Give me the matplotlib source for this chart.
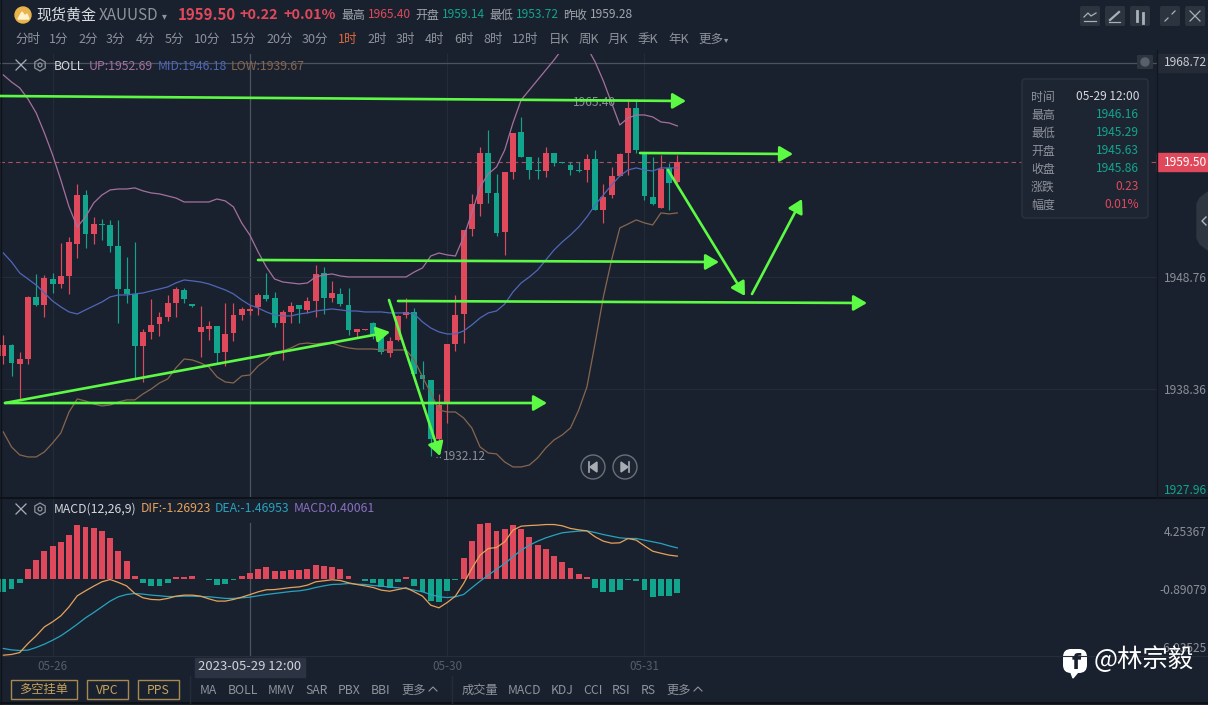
import numpy as np
import matplotlib
matplotlib.use("Agg")
import matplotlib.pyplot as plt
from matplotlib.patches import Circle, FancyBboxPatch, Rectangle, RegularPolygon, Polygon

plt.rcParams['font.family'] = ['Noto Sans CJK SC', 'DejaVu Sans']

W, H = 1208, 705
BG = '#1a212e'
RED = '#e0495b'
GREEN = '#12a58d'
ARROW = '#5dfa45'
GREY = '#8b9098'

# hourly candles
opens = [1941.44, 1942.47, 1940.70, 1941.16, 1946.91, 1946.19, 1948.61, 1948.15, 1948.89, 1951.87,
         1956.43, 1952.80, 1953.76, 1953.64, 1951.72, 1947.68, 1947.18, 1942.37, 1943.68, 1944.42,
         1945.04, 1946.38, 1947.59, 1946.25, 1943.65, 1943.96, 1944.24, 1941.82, 1943.58, 1945.26,
         1945.63, 1945.97, 1947.12, 1946.81, 1944.52, 1945.54, 1946.16, 1945.73, 1946.59, 1949.14,
         1946.81, 1947.18, 1946.19, 1943.70, 1943.89, 1944.48, 1943.55, 1941.69, 1942.93, 1945.23,
         1945.54, 1939.64, 1939.21, 1933.68, 1937.19, 1942.53, 1945.32, 1953.23, 1955.59, 1960.31,
         1956.65, 1953.02, 1958.60, 1962.30, 1959.94, 1958.76, 1958.70, 1960.31, 1959.45, 1959.22,
         1958.76, 1958.76, 1959.75, 1955.03, 1956.40, 1958.20, 1960.31, 1964.50, 1960.46, 1956.21,
         1955.19, 1958.91, 1957.67]
highs = [1943.40, 1942.60, 1941.85, 1947.03, 1949.05, 1948.98, 1949.14, 1952.00, 1952.55, 1957.46,
         1956.90, 1954.35, 1954.17, 1954.11, 1954.11, 1950.63, 1952.09, 1943.93, 1946.72, 1945.54,
         1947.12, 1947.84, 1947.77, 1946.28, 1946.10, 1944.73, 1944.27, 1946.41, 1946.35, 1946.04,
         1946.16, 1947.28, 1949.14, 1947.40, 1945.73, 1946.47, 1946.16, 1946.91, 1949.88, 1949.76,
         1948.46, 1947.81, 1947.74, 1943.92, 1943.98, 1944.64, 1943.70, 1943.18, 1945.26, 1946.81,
         1945.88, 1941.01, 1939.21, 1937.91, 1942.53, 1947.12, 1953.17, 1956.52, 1960.87, 1962.48,
         1958.39, 1958.60, 1962.23, 1963.66, 1960.00, 1960.00, 1960.93, 1960.31, 1959.47, 1959.53,
         1959.53, 1960.25, 1960.62, 1957.45, 1959.07, 1960.31, 1965.40, 1965.38, 1960.46, 1959.94,
         1960.15, 1959.38, 1960.15]
lows = [1940.70, 1939.58, 1937.35, 1940.70, 1946.10, 1945.04, 1947.28, 1947.74, 1947.18, 1950.54,
        1951.53, 1951.87, 1952.24, 1951.16, 1944.48, 1946.41, 1939.36, 1939.05, 1942.99, 1943.30,
        1944.73, 1945.11, 1946.41, 1946.04, 1941.32, 1942.93, 1940.76, 1940.51, 1942.87, 1944.79,
        1945.29, 1945.26, 1946.59, 1944.11, 1941.07, 1944.55, 1944.55, 1945.48, 1945.11, 1945.35,
        1946.50, 1946.10, 1943.40, 1943.18, 1943.88, 1942.99, 1941.63, 1941.32, 1942.87, 1944.95,
        1939.77, 1938.34, 1932.12, 1932.54, 1935.17, 1941.94, 1942.62, 1952.61, 1954.51, 1955.66,
        1952.61, 1950.84, 1957.89, 1959.94, 1957.89, 1957.89, 1958.08, 1959.13, 1959.37, 1958.26,
        1958.60, 1957.67, 1955.03, 1953.85, 1956.12, 1958.20, 1958.29, 1960.31, 1955.96, 1955.50,
        1955.19, 1955.03, 1957.52]
closes = [1942.47, 1940.82, 1941.16, 1946.97, 1946.19, 1948.67, 1948.15, 1948.89, 1952.06, 1956.43,
          1952.80, 1953.73, 1953.67, 1951.72, 1947.71, 1947.18, 1942.37, 1943.65, 1944.36, 1945.11,
          1946.38, 1947.68, 1946.72, 1946.10, 1944.11, 1944.27, 1941.75, 1943.52, 1945.26, 1945.82,
          1945.86, 1947.12, 1946.78, 1944.55, 1945.51, 1946.10, 1945.82, 1946.56, 1949.05, 1946.87,
          1947.28, 1946.28, 1943.86, 1943.92, 1943.95, 1943.40, 1941.84, 1942.87, 1945.20, 1945.54,
          1939.77, 1939.27, 1933.68, 1936.88, 1942.53, 1945.26, 1953.17, 1955.59, 1960.31, 1956.65,
          1952.86, 1958.54, 1962.17, 1960.00, 1958.76, 1958.67, 1960.31, 1959.44, 1959.39, 1958.76,
          1958.67, 1959.75, 1955.03, 1956.27, 1958.20, 1960.22, 1964.50, 1960.62, 1956.34, 1955.59,
          1958.82, 1957.52, 1959.50]

boll_up = [1967.61, 1966.95, 1966.40, 1965.37, 1964.07, 1962.21, 1960.16, 1957.83, 1955.32, 1953.45,
           1954.39, 1955.69, 1956.43, 1956.90, 1956.99, 1956.99, 1957.09, 1956.81, 1956.62, 1956.53,
           1956.34, 1956.15, 1955.78, 1955.78, 1955.78, 1955.78, 1956.06, 1955.88, 1955.32, 1953.83,
           1952.69, 1951.13, 1949.73, 1948.61, 1948.33, 1948.24, 1948.15, 1948.24, 1948.80, 1948.98,
           1949.08, 1948.89, 1948.80, 1948.80, 1948.80, 1948.80, 1948.80, 1948.80, 1948.80, 1948.80,
           1949.26, 1949.64, 1950.75, 1951.03, 1950.85, 1950.75, 1952.52, 1954.76, 1957.18, 1958.39,
           1959.04, 1960.62, 1963.14, 1965.28, 1966.21, 1967.14, 1968.07, 1969.00, 1970.03, 1970.49,
           1970.59, 1970.21, 1968.82, 1967.05, 1965.00, 1962.95, 1963.60, 1963.88, 1963.88, 1963.70,
           1963.23, 1963.14, 1962.86]
boll_mid = [1951.03, 1950.20, 1949.17, 1948.61, 1948.05, 1947.31, 1946.56, 1946.01, 1945.54, 1945.35,
            1945.73, 1946.10, 1946.47, 1946.94, 1947.12, 1947.12, 1947.22, 1947.31, 1947.50, 1947.68,
            1947.87, 1948.24, 1948.52, 1948.43, 1948.33, 1948.15, 1947.87, 1947.59, 1947.22, 1946.66,
            1946.18, 1945.91, 1945.54, 1945.26, 1945.17, 1945.17, 1945.35, 1945.45, 1945.63, 1945.73,
            1945.82, 1945.73, 1945.63, 1945.63, 1945.54, 1945.54, 1945.54, 1945.45, 1945.45, 1945.45,
            1945.35, 1944.61, 1944.05, 1943.68, 1943.49, 1943.49, 1943.77, 1944.33, 1944.98, 1945.45,
            1945.63, 1946.28, 1947.40, 1948.24, 1948.80, 1949.45, 1950.38, 1951.31, 1952.06, 1952.71,
            1953.45, 1954.39, 1955.50, 1956.43, 1957.36, 1958.20, 1958.76, 1958.95, 1958.76, 1958.67,
            1958.95, 1958.95, 1958.95]
boll_low = [1934.37, 1932.97, 1932.23, 1932.04, 1932.04, 1932.51, 1933.34, 1934.27, 1936.23, 1937.44,
            1937.25, 1936.97, 1936.79, 1936.88, 1937.16, 1937.35, 1937.35, 1937.91, 1938.37, 1938.93,
            1939.30, 1940.33, 1941.16, 1941.07, 1940.79, 1940.42, 1939.49, 1939.02, 1938.93, 1939.58,
            1939.67, 1940.51, 1941.07, 1941.82, 1941.91, 1942.19, 1942.56, 1942.65, 1942.56, 1942.65,
            1942.65, 1942.37, 1942.19, 1942.09, 1942.09, 1942.09, 1942.00, 1942.00, 1942.00, 1942.00,
            1941.07, 1939.49, 1938.00, 1936.41, 1936.23, 1936.23, 1935.67, 1934.74, 1932.97, 1932.41,
            1932.32, 1931.57, 1931.11, 1931.11, 1931.29, 1931.95, 1932.88, 1933.62, 1934.09, 1934.74,
            1936.41, 1938.56, 1942.65, 1946.94, 1950.38, 1953.36, 1953.73, 1954.11, 1953.83, 1953.64,
            1954.76, 1954.67, 1954.76]

macd_hist = [-1.05, -0.79, -0.39, 0.73, 1.42, 2.18, 2.57, 2.89, 3.41, 4.20,
             4.07, 3.96, 3.73, 3.15, 2.15, 1.36, 0.18, -0.39, -0.60, -0.60,
             -0.34, 0.08, 0.13, 0.16, -0.05, -0.13, -0.52, -0.45, -0.13, 0.18,
             0.40, 0.73, 0.87, 0.60, 0.60, 0.66, 0.66, 0.71, 1.05, 0.97,
             0.89, 0.71, 0.21, -0.03, -0.16, -0.39, -0.66, -0.71, -0.31, 0.10,
             -0.58, -1.05, -1.78, -1.84, -1.00, -0.08, 1.65, 2.97, 4.28, 4.38,
             3.75, 3.88, 4.20, 3.88, 3.28, 2.62, 2.31, 1.76, 1.26, 0.79,
             0.34, 0.10, -0.71, -1.08, -1.08, -0.87, -0.08, -0.21, -0.94, -1.44,
             -1.34, -1.39, -1.15]
macd_dif = [-6.04, -5.98, -5.83, -5.12, -4.51, -3.81, -3.41, -2.94, -2.23, -1.36,
            -0.97, -0.60, -0.26, -0.08, -0.31, -0.58, -1.18, -1.52, -1.65, -1.68,
            -1.57, -1.39, -1.31, -1.31, -1.39, -1.60, -1.78, -1.78, -1.65, -1.47,
            -1.27, -1.05, -0.89, -0.87, -0.79, -0.71, -0.66, -0.52, -0.26, -0.18,
            -0.10, -0.16, -0.34, -0.47, -0.58, -0.71, -0.92, -1.00, -0.87, -0.73,
            -1.05, -1.39, -2.10, -2.31, -1.89, -1.39, -0.39, 0.79, 1.84, 2.36,
            2.44, 2.89, 3.81, 4.12, 4.17, 4.20, 4.25, 4.25, 4.15, 3.94,
            3.83, 3.75, 3.28, 2.94, 2.78, 2.81, 3.15, 3.02, 2.57, 2.15,
            1.99, 1.84, 1.76]
macd_dea = [-5.51, -5.62, -5.67, -5.64, -5.43, -5.17, -4.86, -4.51, -4.07, -3.60,
            -3.10, -2.68, -2.23, -1.78, -1.44, -1.26, -1.18, -1.23, -1.31, -1.36,
            -1.42, -1.42, -1.39, -1.39, -1.42, -1.44, -1.50, -1.57, -1.57, -1.52,
            -1.47, -1.36, -1.26, -1.18, -1.10, -1.02, -0.97, -0.87, -0.71, -0.58,
            -0.47, -0.45, -0.39, -0.45, -0.47, -0.55, -0.60, -0.68, -0.73, -0.79,
            -0.92, -1.05, -1.26, -1.44, -1.50, -1.44, -1.26, -0.73, -0.21, 0.26,
            0.73, 1.18, 1.71, 2.23, 2.62, 2.94, 3.20, 3.41, 3.60, 3.67,
            3.73, 3.75, 3.62, 3.46, 3.33, 3.20, 3.15, 3.15, 3.02, 2.89,
            2.76, 2.57, 2.41]

date_ticks = [6, 54, 78]
date_labels = ['05-26', '05-30', '05-31']
cross_idx = 30

periods = ['分时', '1分', '2分', '3分', '4分', '5分', '10分', '15分', '20分', '30分', '1时', '2时', '3时',
           '4时', '6时', '8时', '12时', '日K', '周K', '月K', '季K', '年K', '更多']
period_x = [15, 49, 78, 106, 136, 165, 194, 230, 266, 302, 338, 367, 396, 425, 454, 483, 512, 549, 579,
            608, 638, 668, 698]
ind_left = ['MA', 'BOLL', 'MMV', 'SAR', 'PBX', 'BBI', '更多']
ind_left_x = [200, 228, 268, 305, 338, 371, 401]
ind_right = ['成交量', 'MACD', 'KDJ', 'CCI', 'RSI', 'RS', '更多']
ind_right_x = [462, 508, 551, 583, 612, 641, 666]

info_names = ['时间', '最高', '最低', '开盘', '收盘', '涨跌', '幅度']
info_values = ['05-29 12:00', '1946.16', '1945.29', '1945.63', '1945.86', '0.23', '0.01%']
info_colors = ['#d5d8dd', GREEN, GREEN, GREEN, GREEN, RED, RED]

# hand drawn arrows (from, to) in picture pixels
arrows = [((0, 96), (686, 101)), ((640, 153), (793, 154)), ((258, 260), (719, 262)),
          ((398, 301), (867, 303)), ((5, 403), (547, 403)), ((5, 403), (390, 332)),
          ((389, 300), (440, 456)), ((668, 170), (745, 296)), ((752, 294), (802, 199))]


def px_axes(x0, y0, x1, y1, **kw):
    return fig.add_axes([x0 / W, 1 - y1 / H, (x1 - x0) / W, (y1 - y0) / H], **kw)


def idx_lim(x0, x1):
    return (x0 - 3.3) / 8.22, (x1 - 3.3) / 8.22


fig = plt.figure(figsize=(W / 100, H / 100), dpi=100, facecolor=BG)
idx = np.arange(len(opens))
o, hi, lo, c = map(np.array, (opens, highs, lows, closes))
up = c >= o
colors = np.where(up, RED, GREEN)

# price panel
ax = px_axes(0, 54, 1157, 498, facecolor=BG)
ax.set_xlim(*idx_lim(0, 1157))
ax.set_ylim(1968.72 - 435 / 10.74, 1968.72 + 9 / 10.74)
ax.axis('off')
for t in date_ticks:
    ax.axvline(t, color='#252c39', lw=0.8, zorder=1)
ax.axvline(cross_idx, color='#4c525e', lw=0.9, zorder=1)
for p in [1948.76, 1938.36]:
    ax.axhline(p, color='#252c39', lw=0.8, zorder=1)
ax.axhline(1968.72, color='#4c525e', lw=0.9, zorder=1)
ax.axhline(closes[-1], color='#a8505f', lw=0.8, ls=(0, (4, 3)), zorder=1)
ax.vlines(idx, lo, hi, colors=colors, lw=0.85, zorder=3)
ax.bar(idx, np.maximum(np.abs(c - o), 0.1), bottom=np.minimum(o, c), width=0.72, color=colors, zorder=3)
ax.plot(idx, boll_up, color='#a4709f', lw=0.9, zorder=4)
ax.plot(idx, boll_mid, color='#4f67b8', lw=0.9, zorder=4)
ax.plot(idx, boll_low, color='#86664f', lw=0.9, zorder=4)

# macd panel
ax2 = px_axes(0, 499, 1157, 656, facecolor=BG)
ax2.set_xlim(*idx_lim(0, 1157))
ax2.set_ylim(-77.5 / 12.7, 79.5 / 12.7)
ax2.axis('off')
for t in date_ticks:
    ax2.axvline(t, color='#252c39', lw=0.8, zorder=1)
ax2.axvline(cross_idx, ymax=0.85, color='#4c525e', lw=0.9, zorder=1)
hist = np.array(macd_hist)
ax2.bar(idx, hist, width=0.72, color=np.where(hist >= 0, RED, GREEN), zorder=3)
ax2.plot(idx, macd_dea, color='#27a3bf', lw=0.9, zorder=4)
ax2.plot(idx, macd_dif, color='#e6a25a', lw=0.9, zorder=5)

# everything else sits on a pixel overlay
ov = fig.add_axes([0, 0, 1, 1], zorder=10)
ov.set_xlim(0, W)
ov.set_ylim(H, 0)
ov.axis('off')
ov.patch.set_alpha(0)


def label(x, y, s, color=GREY, size=8.6, ha='left', **kw):
    return ov.text(x, y + 1, s, color=color, fontsize=size, ha=ha, va='center', **kw)


def hline(y, x0=0, x1=W, color='#0d1118', lw=1.4):
    ov.plot([x0, x1], [y, y], color=color, lw=lw, solid_capstyle='butt')


def close_icon(x, y):
    ov.plot([x - 5, x + 5], [y - 5, y + 5], color='#aab0b8', lw=0.9)
    ov.plot([x - 5, x + 5], [y + 5, y - 5], color='#aab0b8', lw=0.9)


def hex_icon(x, y):
    ov.add_patch(RegularPolygon((x, y), 6, radius=6, fill=False, ec='#8e949c', lw=0.9))
    ov.add_patch(Circle((x, y), 2, fill=False, ec='#8e949c', lw=0.9))


hline(498)
hline(703)
hline(656, color='#272d39', lw=0.8)
ov.plot([1157, 1157], [50, 498], color='#12171f', lw=1)
ov.plot([0.5, 0.5], [0, H], color='#0d1118', lw=1)

# header
ov.add_patch(Circle((23, 15), 8, color='#e9b44c'))
ov.add_patch(Polygon([(18, 19), (22, 12), (25, 16), (27, 14), (29, 19)], color='#fff2cf'))
label(36, 14, '现货黄金', '#d8dbe0', 10.8)
label(99, 14, 'XAUUSD', '#8e939c', 11)
label(162, 15, '▾', '#8e939c', 7)
label(178, 14, '1959.50', RED, 10.8, fontweight='bold')
label(239, 14, '+0.22', RED, 10.4, fontweight='bold')
label(283, 14, '+0.01%', RED, 10.4, fontweight='bold')
for x, name, val, col in [(341, '最高', '1965.40', RED), (415, '开盘', '1959.14', GREEN),
                          (489, '最低', '1953.72', GREEN), (563, '昨收', '1959.28', '#a0a5ad')]:
    label(x, 14, name, '#a0a5ad', 8.6)
    label(x + 27, 14, val, col, 8.6)

for x, s in zip(period_x, periods):
    label(x, 38, s, '#e0683c' if s == '1时' else '#8e939c', 9)
label(724, 39, '▾', '#8e939c', 6)

for x in [1090, 1115, 1140, 1170, 1195]:
    ov.add_patch(FancyBboxPatch((x - 8, 8), 16, 16, boxstyle='round,pad=2', fc='#2c3440', ec='none'))
ov.plot([1084, 1088, 1091, 1096], [17, 13, 16, 13], color='#aab0b8', lw=0.9)
ov.plot([1084, 1096], [21, 21], color='#aab0b8', lw=0.9)
ov.plot([1110, 1119], [20, 12], color='#aab0b8', lw=1.6)
ov.plot([1109, 1120], [22, 22], color='#aab0b8', lw=0.9)
ov.plot([1137, 1137], [11, 21], color='#aab0b8', lw=2)
ov.plot([1143, 1143], [13, 23], color='#aab0b8', lw=2)
ov.plot([1165, 1168], [21, 18], color='#aab0b8', lw=0.9)
ov.plot([1172, 1175], [14, 11], color='#aab0b8', lw=0.9)
close_icon(1195, 16)

# legends
close_icon(21, 65)
hex_icon(40, 65)
label(54, 65, 'BOLL', '#d5d8dd', 8.8)
label(89, 65, 'UP:1952.69', '#a4709f', 8.8)
label(158, 65, 'MID:1946.18', '#4f67b8', 8.8)
label(231, 65, 'LOW:1939.67', '#86664f', 8.8)
close_icon(21, 509)
hex_icon(40, 509)
label(54, 508, 'MACD(12,26,9)', '#d5d8dd', 8.8)
label(141, 508, 'DIF:-1.26923', '#e6a25a', 8.8)
label(215, 508, 'DEA:-1.46953', '#27a3bf', 8.8)
label(294, 508, 'MACD:0.40061', '#8a6fc0', 8.8)

# price axis
ov.add_patch(FancyBboxPatch((1138, 56), 14, 12, boxstyle='round,pad=1', fc='#2d3540', ec='none'))
ov.add_patch(Circle((1145, 62), 4, color='#59606b'))
ov.add_patch(Rectangle((1158, 54), 50, 18, color='#252c38'))
label(1207, 62, '1968.72', '#c8ccd2', 8.6, ha='right')
ov.add_patch(Rectangle((1157, 153), 51, 18, color=RED))
label(1207, 161, '1959.50', 'white', 8.6, ha='right')
label(1207, 278, '1948.76', GREY, 8.6, ha='right')
label(1207, 390, '1938.36', GREY, 8.6, ha='right')
label(1207, 489, '1927.96', GREEN, 8.6, ha='right')
ov.add_patch(Polygon([(1208, 192), (1200, 198), (1197, 204), (1197, 238), (1200, 244), (1208, 250)], color='#2e3641'))
ov.plot([1206, 1202, 1206], [217, 221, 225], color='#b0b5bc', lw=1)
label(1207, 532, '4.25367', GREY, 8.6, ha='right')
label(1207, 590, '-0.89079', GREY, 8.6, ha='right')
label(1207, 647, '-6.03525', GREY, 8.6, ha='right')

# info box
ov.add_patch(FancyBboxPatch((1025, 82), 120, 133, boxstyle='round,pad=3', fc='#1e2532', ec='#2b3340', lw=1))
for i, (name, val, col) in enumerate(zip(info_names, info_values, info_colors)):
    label(1031, 96 + 18 * i, name, '#8e939c', 8.6)
    label(1139, 96 + 18 * i, val, col, 8.6, ha='right')

# extreme labels, play buttons
label(573, 101, '1965.40', GREY, 8.6)
ov.plot([617, 628], [100, 100], color=GREY, lw=0.8, ls=(0, (1, 2)))
label(443, 456, '1932.12', GREY, 8.6)
ov.plot([436, 442], [457, 457], color=GREY, lw=0.8, ls=(0, (1, 2)))
for x, tri, bar in [(593, [(597, 462), (597, 472), (590, 467)], 589), (625, [(621, 462), (621, 472), (628, 467)], 629)]:
    ov.add_patch(Circle((x, 467), 12, fc='#1f2633', ec='#6a7078', lw=1))
    ov.add_patch(Polygon(tri, color='#a8adb4'))
    ov.plot([bar, bar], [462, 472], color='#a8adb4', lw=1.2)

# drawn arrows
for start, end in arrows:
    ov.annotate('', xy=end, xytext=start, arrowprops=dict(arrowstyle='-|>,head_length=0.62,head_width=0.36', color=ARROW,
                lw=1.9, shrinkA=0, shrinkB=0, mutation_scale=13))

# date axis
for t, s in zip(date_ticks, date_labels):
    label(3.3 + 8.22 * t, 665, s, '#565d69', 8.4, ha='center')
ov.add_patch(Rectangle((195, 658), 110, 19, color='#2c3444'))
label(250, 666, '2023-05-29 12:00', '#d0d3d8', 9.4, ha='center')

# bottom toolbar
for x0, x1, s in [(11, 77, '多空挂单'), (87, 128, 'VPC'), (138, 179, 'PPS')]:
    ov.add_patch(Rectangle((x0, 680), x1 - x0, 19, fill=False, ec='#a8894f', lw=1))
    label((x0 + x1) / 2, 689, s, '#c7a45e', 8.8, ha='center')
for x in [190, 452]:
    ov.plot([x, x], [676, 703], color='#252c39', lw=1)
for x, s in zip(ind_left_x, ind_left):
    label(x, 689, s, '#8e939c', 8.8)
for x, s in zip(ind_right_x, ind_right):
    label(x, 689, s, '#8e939c', 8.8)
for x in [433, 698]:
    ov.plot([x - 4, x, x + 4], [691, 687, 691], color='#8e939c', lw=0.8)

# watermark
ov.add_patch(FancyBboxPatch((1068, 654), 14, 14, boxstyle='round,pad=5,rounding_size=8', fc='white', ec='none'))
ov.add_patch(Polygon([(1070, 670), (1078, 672), (1073, 678)], color='white'))
ov.text(1076, 663, 'f', color='#1a212e', fontsize=15, fontweight='bold', ha='center', va='center',
        family=['DejaVu Sans'])
label(1094, 659, '@林宗毅', 'white', 18.3)

fig.savefig('out.png', dpi=100, facecolor=BG)
